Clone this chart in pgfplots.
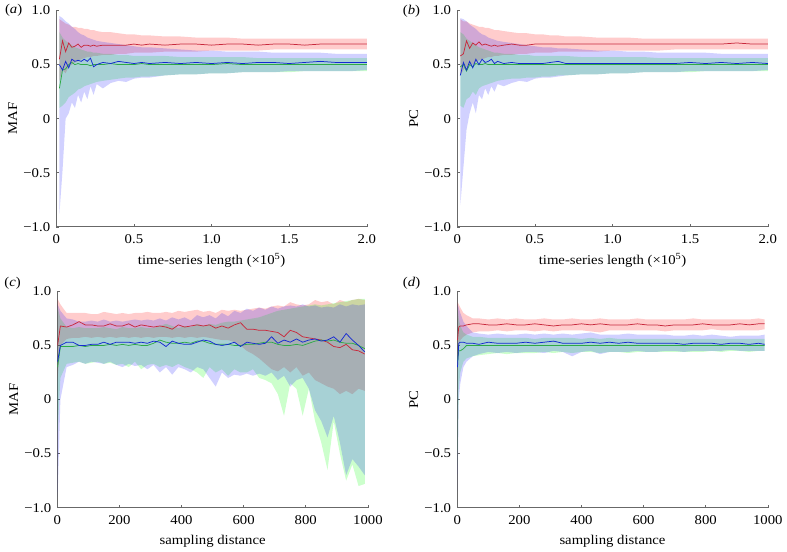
\documentclass[border=0pt]{standalone}
\usepackage{fontspec}
\setmainfont[FakeStretch=1.1]{Liberation Serif}
\usepackage{pgfplots}
\pgfplotsset{compat=1.18}
\usepgfplotslibrary{fillbetween}
\usepackage{pgfplotstable}

\definecolor{axgray}{HTML}{686868}
\definecolor{lred}{HTML}{C8283C}
\definecolor{lgreen}{HTML}{2EAA46}
\definecolor{lblue}{HTML}{1428D2}

% panel (a): time-series length, MAF
\pgfplotstableread{
x     rm    rl    ru    gm    gl    gu    bm    bl    bu
0.02  0.55  0.35  0.92  0.28  0.10  0.80  0.50 -0.88  0.95
0.04  0.72  0.45  0.90  0.45  0.12  0.75  0.45 -0.48  0.93
0.06  0.62  0.42  0.88  0.46  0.15  0.72  0.53  0.00  0.90
0.08  0.70  0.48  0.87  0.50  0.20  0.70  0.47  0.05  0.88
0.10  0.66  0.50  0.85  0.52  0.22  0.68  0.55  0.15  0.85
0.12  0.67  0.52  0.85  0.50  0.24  0.66  0.53  0.10  0.83
0.14  0.69  0.53  0.84  0.51  0.27  0.65  0.54  0.22  0.80
0.16  0.66  0.55  0.84  0.50  0.28  0.64  0.53  0.15  0.78
0.18  0.68  0.56  0.83  0.50  0.30  0.63  0.55  0.25  0.77
0.20  0.68  0.57  0.83  0.50  0.31  0.62  0.53  0.18  0.75
0.22  0.67  0.57  0.82  0.49  0.32  0.62  0.56  0.30  0.74
0.24  0.68  0.58  0.82  0.50  0.33  0.61  0.48  0.22  0.73
0.26  0.67  0.58  0.81  0.50  0.34  0.61  0.50  0.32  0.72
0.30  0.68  0.59  0.80  0.50  0.35  0.60  0.52  0.28  0.71
0.35  0.68  0.59  0.80  0.51  0.36  0.60  0.51  0.33  0.70
0.40  0.68  0.60  0.79  0.50  0.37  0.59  0.53  0.35  0.69
0.45  0.68  0.60  0.78  0.50  0.38  0.59  0.52  0.34  0.68
0.50  0.69  0.61  0.78  0.50  0.38  0.58  0.51  0.37  0.67
0.55  0.68  0.61  0.77  0.51  0.39  0.58  0.52  0.38  0.66
0.60  0.69  0.61  0.77  0.50  0.39  0.58  0.51  0.38  0.66
0.70  0.68  0.62  0.76  0.50  0.40  0.58  0.52  0.40  0.65
0.80  0.69  0.62  0.76  0.50  0.41  0.57  0.51  0.41  0.64
0.90  0.69  0.62  0.75  0.50  0.41  0.57  0.52  0.41  0.63
1.00  0.68  0.63  0.75  0.50  0.42  0.57  0.51  0.42  0.63
1.10  0.69  0.63  0.75  0.51  0.42  0.57  0.52  0.42  0.62
1.20  0.69  0.63  0.74  0.50  0.43  0.57  0.51  0.43  0.62
1.30  0.68  0.63  0.74  0.50  0.43  0.56  0.52  0.43  0.62
1.40  0.69  0.64  0.74  0.50  0.43  0.56  0.52  0.43  0.61
1.50  0.69  0.64  0.74  0.50  0.43  0.56  0.51  0.44  0.61
1.60  0.68  0.64  0.74  0.50  0.44  0.56  0.52  0.44  0.61
1.70  0.69  0.64  0.74  0.50  0.44  0.56  0.53  0.44  0.61
1.80  0.69  0.64  0.74  0.50  0.44  0.56  0.52  0.44  0.60
1.90  0.69  0.64  0.74  0.50  0.44  0.56  0.52  0.44  0.60
2.00  0.69  0.64  0.74  0.50  0.44  0.56  0.52  0.45  0.60
}\tA

% panel (b): time-series length, PC
\pgfplotstableread{
x     rm    rl    ru    gm    gl    gu    bm    bl    bu
0.02  0.58  0.40  0.92  0.48  0.12  0.80  0.40 -0.80  0.93
0.04  0.60  0.45  0.90  0.50  0.10  0.78  0.52 -0.45  0.92
0.06  0.72  0.48  0.90  0.44  0.18  0.74  0.45 -0.10  0.90
0.08  0.65  0.50  0.88  0.50  0.20  0.72  0.53  0.05  0.87
0.10  0.70  0.50  0.87  0.48  0.25  0.70  0.47  0.15  0.85
0.12  0.68  0.52  0.86  0.51  0.22  0.68  0.55  0.05  0.83
0.14  0.71  0.54  0.85  0.50  0.28  0.66  0.50  0.22  0.80
0.16  0.68  0.55  0.85  0.50  0.30  0.65  0.55  0.18  0.78
0.18  0.69  0.56  0.84  0.51  0.31  0.64  0.52  0.28  0.77
0.20  0.68  0.57  0.84  0.50  0.32  0.63  0.53  0.22  0.75
0.22  0.67  0.57  0.83  0.50  0.33  0.62  0.55  0.30  0.74
0.24  0.68  0.58  0.82  0.50  0.34  0.61  0.51  0.25  0.73
0.26  0.67  0.58  0.82  0.50  0.35  0.61  0.53  0.32  0.72
0.30  0.68  0.59  0.81  0.50  0.36  0.60  0.51  0.30  0.71
0.35  0.69  0.59  0.80  0.50  0.37  0.60  0.52  0.33  0.70
0.40  0.68  0.60  0.79  0.50  0.37  0.59  0.51  0.35  0.69
0.45  0.68  0.60  0.79  0.50  0.38  0.59  0.51  0.34  0.68
0.50  0.69  0.61  0.78  0.50  0.38  0.58  0.51  0.37  0.67
0.55  0.69  0.61  0.78  0.50  0.39  0.58  0.51  0.38  0.66
0.60  0.69  0.61  0.77  0.50  0.39  0.58  0.52  0.38  0.66
0.65  0.69  0.62  0.77  0.50  0.40  0.58  0.53  0.39  0.65
0.70  0.69  0.62  0.76  0.50  0.40  0.58  0.51  0.40  0.65
0.80  0.69  0.62  0.76  0.50  0.41  0.57  0.51  0.41  0.64
0.90  0.69  0.62  0.75  0.50  0.41  0.57  0.51  0.41  0.63
1.00  0.69  0.63  0.75  0.50  0.42  0.57  0.51  0.42  0.63
1.10  0.69  0.63  0.75  0.50  0.42  0.57  0.51  0.42  0.62
1.20  0.69  0.63  0.74  0.50  0.43  0.57  0.51  0.43  0.62
1.30  0.69  0.63  0.74  0.50  0.43  0.56  0.51  0.43  0.61
1.40  0.69  0.64  0.74  0.50  0.43  0.56  0.51  0.43  0.61
1.50  0.69  0.64  0.74  0.50  0.43  0.56  0.52  0.44  0.61
1.60  0.69  0.64  0.74  0.50  0.44  0.56  0.51  0.44  0.61
1.70  0.69  0.64  0.74  0.50  0.44  0.56  0.52  0.44  0.60
1.80  0.70  0.64  0.74  0.50  0.44  0.56  0.51  0.44  0.60
1.90  0.69  0.64  0.74  0.50  0.44  0.56  0.52  0.44  0.60
2.00  0.69  0.64  0.74  0.50  0.44  0.56  0.51  0.45  0.60
}\tB

% panel (c): sampling distance, MAF
\pgfplotstableread{
x    rm   rl   ru   gm   gl    gu   bm   bl    bu
1    0.50 0.20 0.93 0.30 -0.30 0.85 0.35 -0.90 0.88
10   0.68 0.50 0.88 0.49  0.20 0.75 0.50  0.00 0.82
30   0.67 0.56 0.80 0.49  0.33 0.67 0.53  0.30 0.75
50   0.69 0.57 0.80 0.49  0.34 0.66 0.53  0.32 0.74
70   0.72 0.57 0.80 0.50  0.35 0.67 0.50  0.35 0.72
90   0.69 0.58 0.80 0.49  0.33 0.66 0.50  0.33 0.72
110  0.69 0.57 0.79 0.50  0.34 0.66 0.51  0.35 0.73
130  0.68 0.58 0.79 0.50  0.35 0.66 0.51  0.34 0.72
150  0.68 0.57 0.81 0.50  0.33 0.67 0.53  0.33 0.74
170  0.70 0.58 0.80 0.51  0.34 0.66 0.51  0.35 0.72
190  0.68 0.57 0.79 0.50  0.32 0.65 0.53  0.32 0.73
210  0.68 0.58 0.80 0.51  0.33 0.67 0.53  0.30 0.72
230  0.70 0.57 0.79 0.50  0.30 0.66 0.53  0.33 0.73
250  0.67 0.58 0.80 0.51  0.35 0.66 0.52  0.31 0.74
270  0.69 0.57 0.80 0.50  0.28 0.67 0.53  0.32 0.73
290  0.68 0.58 0.81 0.50  0.32 0.66 0.52  0.28 0.74
310  0.67 0.57 0.80 0.52  0.33 0.66 0.54  0.32 0.73
330  0.68 0.58 0.80 0.55  0.30 0.68 0.53  0.25 0.75
350  0.67 0.58 0.81 0.53  0.32 0.70 0.49  0.30 0.73
370  0.65 0.57 0.80 0.52  0.30 0.68 0.54  0.23 0.76
390  0.69 0.58 0.82 0.52  0.33 0.66 0.52  0.30 0.74
410  0.67 0.57 0.81 0.53  0.30 0.68 0.51  0.28 0.76
430  0.68 0.58 0.82 0.52  0.28 0.67 0.51  0.25 0.73
450  0.69 0.57 0.83 0.54  0.25 0.70 0.53  0.30 0.78
470  0.68 0.58 0.81 0.54  0.20 0.68 0.55  0.28 0.76
490  0.69 0.57 0.82 0.52  0.30 0.70 0.54  0.20 0.78
510  0.66 0.56 0.80 0.51  0.25 0.69 0.51  0.12 0.75
530  0.68 0.55 0.83 0.51  0.28 0.71 0.50  0.25 0.80
550  0.66 0.55 0.82 0.51  0.22 0.72 0.51  0.20 0.77
570  0.69 0.53 0.83 0.50  0.28 0.72 0.53  0.23 0.82
590  0.71 0.50 0.82 0.50  0.25 0.73 0.49  0.22 0.80
610  0.65 0.45 0.83 0.51  0.25 0.74 0.53  0.24 0.84
630  0.65 0.42 0.84 0.51  0.28 0.75 0.52  0.22 0.82
650  0.64 0.38 0.85 0.52  0.20 0.76 0.51  0.24 0.85
670  0.64 0.33 0.84 0.53  0.18 0.78 0.52  0.22 0.83
690  0.63 0.28 0.86 0.53  0.15 0.80 0.58  0.25 0.86
710  0.62 0.26 0.87 0.51  0.05 0.82 0.52  0.18 0.84
730  0.58 0.30 0.86 0.50 -0.15 0.83 0.55  0.22 0.86
750  0.64 0.25 0.90 0.50  0.15 0.84 0.53  0.12 0.87
770  0.62 0.30 0.88 0.51  0.10 0.85 0.56  0.18 0.86
790  0.58 0.22 0.87 0.50 -0.15 0.86 0.53  0.20 0.88
810  0.57 0.25 0.88 0.52  0.10 0.87 0.55  0.10 0.86
830  0.56 0.18 0.92 0.54 -0.20 0.88 0.56 -0.10 0.87
850  0.55 0.15 0.90 0.55 -0.40 0.87 0.54 -0.20 0.85
870  0.53 0.12 0.91 0.54 -0.65 0.88 0.55 -0.35 0.86
890  0.49 0.10 0.88 0.55 -0.20 0.89 0.58 -0.15 0.85
910  0.48 0.05 0.92 0.53 -0.50 0.90 0.53 -0.40 0.88
930  0.51 0.08 0.90 0.52 -0.75 0.91 0.61 -0.70 0.86
950  0.46 0.05 0.92 0.52 -0.60 0.92 0.55 -0.55 0.88
970  0.45 0.10 0.93 0.50 -0.80 0.93 0.50 -0.62 0.87
990  0.42 0.08 0.92 0.47 -0.78 0.93 0.44 -0.70 0.88
}\tC

% panel (d): sampling distance, PC
\pgfplotstableread{
x    rm   rl   ru   gm   gl    gu   bm   bl    bu
1    0.55 0.30 0.90 0.35 -0.60 0.85 0.30 -0.85 0.88
5    0.67 0.50 0.88 0.45  0.10 0.75 0.52  0.00 0.85
10   0.68 0.55 0.85 0.45  0.25 0.68 0.53  0.15 0.80
20   0.68 0.58 0.80 0.47  0.35 0.62 0.53  0.30 0.72
30   0.69 0.60 0.78 0.50  0.38 0.60 0.52  0.35 0.68
50   0.70 0.62 0.75 0.50  0.40 0.58 0.52  0.40 0.62
70   0.70 0.63 0.75 0.50  0.41 0.58 0.51  0.42 0.61
100  0.69 0.63 0.74 0.50  0.42 0.57 0.53  0.44 0.60
130  0.69 0.64 0.75 0.50  0.43 0.57 0.52  0.43 0.61
160  0.70 0.63 0.74 0.50  0.42 0.57 0.52  0.44 0.60
190  0.69 0.64 0.75 0.50  0.43 0.57 0.52  0.43 0.60
220  0.69 0.64 0.74 0.50  0.43 0.57 0.53  0.44 0.61
250  0.70 0.63 0.74 0.50  0.43 0.56 0.52  0.44 0.60
280  0.69 0.64 0.75 0.50  0.44 0.57 0.53  0.43 0.61
310  0.68 0.63 0.74 0.50  0.43 0.57 0.54  0.45 0.60
340  0.69 0.64 0.74 0.50  0.44 0.57 0.52  0.44 0.61
370  0.69 0.64 0.75 0.50  0.43 0.57 0.52  0.40 0.60
400  0.70 0.64 0.74 0.50  0.44 0.56 0.52  0.44 0.61
430  0.69 0.63 0.74 0.50  0.44 0.57 0.53  0.45 0.62
460  0.70 0.62 0.75 0.50  0.43 0.56 0.52  0.42 0.60
490  0.69 0.64 0.74 0.50  0.44 0.57 0.53  0.44 0.60
520  0.69 0.64 0.74 0.50  0.44 0.56 0.52  0.44 0.60
550  0.69 0.64 0.74 0.50  0.43 0.56 0.53  0.44 0.61
580  0.70 0.64 0.75 0.50  0.44 0.56 0.52  0.45 0.60
610  0.69 0.64 0.74 0.50  0.44 0.56 0.52  0.44 0.60
640  0.69 0.64 0.74 0.50  0.44 0.56 0.52  0.44 0.60
670  0.68 0.63 0.74 0.50  0.44 0.56 0.52  0.45 0.60
700  0.69 0.64 0.74 0.50  0.44 0.56 0.52  0.45 0.59
730  0.69 0.64 0.74 0.50  0.44 0.56 0.51  0.44 0.59
760  0.69 0.64 0.75 0.50  0.44 0.56 0.52  0.45 0.60
790  0.70 0.64 0.74 0.50  0.44 0.56 0.52  0.45 0.59
820  0.69 0.65 0.74 0.50  0.45 0.56 0.52  0.45 0.60
850  0.69 0.64 0.74 0.50  0.44 0.56 0.51  0.45 0.59
880  0.69 0.64 0.74 0.50  0.45 0.56 0.52  0.46 0.58
910  0.70 0.64 0.74 0.50  0.45 0.56 0.52  0.45 0.59
940  0.69 0.64 0.74 0.50  0.44 0.56 0.51  0.45 0.59
970  0.70 0.64 0.75 0.50  0.45 0.56 0.52  0.45 0.59
990  0.70 0.65 0.74 0.50  0.45 0.56 0.51  0.45 0.60
}\tD

\pgfplotsset{
  panel/.style={
    scale only axis, width=313pt, height=218pt, anchor=south west,
    axis x line*=bottom, axis y line*=left,
    axis line style={axgray, line width=0.9pt},
    ymin=-1, ymax=1, ytick={-1,-0.5,0,0.5,1},
    yticklabels={−1.0,−0.5,0,0.5,1.0},
    tick align=inside, major tick length=3pt,
    tick style={axgray, line width=0.6pt},
    xticklabel style={yshift=-3pt},
    yticklabel style={xshift=-1.5pt},
    xlabel style={at={(axis description cs:0.5,-0.156)}, anchor=center},
    ylabel style={at={(axis description cs:-0.14,0.5)}, anchor=center},
  },
  topx/.style={xmin=0, xmax=2, xtick={0,0.5,1,1.5,2},
    xticklabels={0,0.5,1.0,1.5,2.0},
    xlabel={time-series length (×10\textsuperscript{5})}},
  botx/.style={xmin=0, xmax=1000, xtick={0,200,400,600,800,1000},
    xticklabels={0,200,400,600,800,1000},
    xlabel={sampling distance}},
}

\newcommand{\drawpanel}[1]{%
  \addplot[name path=ru, draw=none, forget plot] table[x=x,y=ru]{#1};
  \addplot[name path=rl, draw=none, forget plot] table[x=x,y=rl]{#1};
  \addplot[name path=gu, draw=none, forget plot] table[x=x,y=gu]{#1};
  \addplot[name path=gl, draw=none, forget plot] table[x=x,y=gl]{#1};
  \addplot[name path=bu, draw=none, forget plot] table[x=x,y=bu]{#1};
  \addplot[name path=bl, draw=none, forget plot] table[x=x,y=bl]{#1};
  \addplot[fill=red, fill opacity=0.2, draw=none] fill between[of=ru and rl];
  \addplot[fill=green, fill opacity=0.2, draw=none] fill between[of=gu and gl];
  \addplot[fill=blue, fill opacity=0.18, draw=none] fill between[of=bu and bl];
  \addplot[lred, line width=0.75pt] table[x=x,y=rm]{#1};
  \addplot[lgreen, line width=0.75pt] table[x=x,y=gm]{#1};
  \addplot[lblue, line width=0.75pt] table[x=x,y=bm]{#1};
}

\begin{document}
\fontsize{13.5}{16}\selectfont
\begin{tikzpicture}
\path (0,0) rectangle (787pt,552pt);
\begin{axis}[panel, topx, at={(54pt,324pt)}, ylabel={MAF}]
\drawpanel{\tA}
\end{axis}
\begin{axis}[panel, topx, at={(458pt,324pt)}, ylabel={PC}]
\drawpanel{\tB}
\end{axis}
\begin{axis}[panel, botx, at={(55pt,41pt)}, ylabel={MAF}]
\drawpanel{\tC}
\end{axis}
\begin{axis}[panel, botx, at={(458pt,41pt)}, ylabel={PC}]
\drawpanel{\tD}
\end{axis}
\node at (11pt,542pt) {(\textit{a})};
\node at (412pt,541pt) {(\textit{b})};
\node at (10pt,267pt) {(\textit{c})};
\node at (412pt,267pt) {(\textit{d})};
\end{tikzpicture}
\end{document}
